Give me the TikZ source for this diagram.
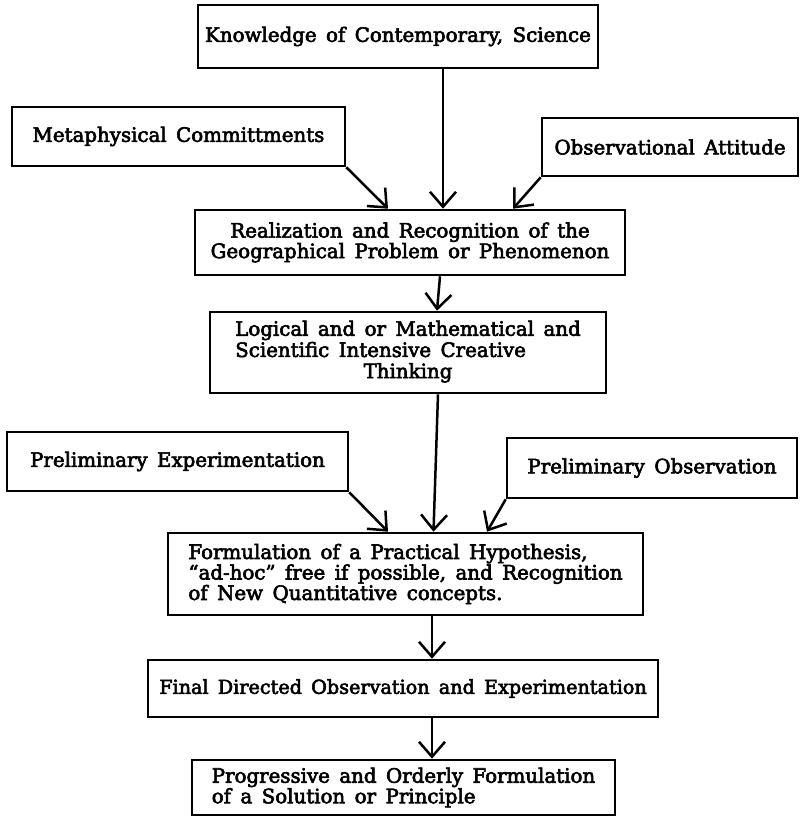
\documentclass[tikz,border=0pt]{standalone}
\usepackage{fontspec}
\setmainfont{DejaVu Serif}[FakeBold=3, WordSpace=1.5]
\usetikzlibrary{arrows.meta}
\begin{document}
\begin{tikzpicture}[x=1pt,y=-1pt,
  box/.style n args={2}{draw, line width=2.6pt, minimum width=#1pt, minimum height=#2pt,
    inner sep=0pt, font=\fontsize{19.8}{20.5}\selectfont},
  arr/.style={line width=2.5pt, -{Straight Barb[length=15pt,width=26pt,line width=2.5pt]}}]
\useasboundingbox[fill=white] (0,0) rectangle (800,817);
\node[box={400}{63}] (know) at (398,36.5) {Knowledge of Contemporary, Science};
\node[box={333}{59}] (meta) at (178.5,136.5) {Metaphysical Committments};
\node[box={256}{58}] (obs) at (670,147) {Observational Attitude};
\node[box={430}{65}, align=center] (real) at (410,242.5) {Realization and Recognition of the\\Geographical Problem or Phenomenon};
\node[box={396}{81}] (logi) at (408,352.5) {\begin{tabular}{@{}l@{}}Logical and or Mathematical and\\Scientific Intensive Creative\\\multicolumn{1}{@{}c@{}}{Thinking}\end{tabular}};
\node[box={341}{59}] (pexp) at (177.5,461.5) {Preliminary Experimentation};
\node[box={290}{60}] (pobs) at (652,468) {Preliminary Observation};
\node[box={475}{82}, align=left] (form) at (405.5,574) {Formulation of a Practical Hypothesis,\\``ad-hoc'' free if possible, and Recognition\\of New Quantitative concepts.};
\node[box={510}{57}, font=\fontsize{19.2}{20.5}\selectfont] (final) at (403,688.5) {Final Directed Observation and Experimentation};
\node[box={423}{55}, align=left] (prog) at (403.5,787.5) {Progressive and Orderly Formulation\\of a Solution or Principle};

\draw[arr] ([xshift=45pt]know.south) -- ([xshift=45pt]know.south |- real.north);
\draw[arr] (meta.south east) -- ([xshift=-22pt]real.north);
\draw[arr] (obs.south west) -- ([xshift=103pt]real.north);
\draw[arr] ([xshift=30pt]real.south) -- ([xshift=29pt]logi.north);
\draw[arr] ([xshift=30pt]logi.south) -- ([xshift=28pt]form.north);
\draw[arr] (pexp.south east) -- ([xshift=-17.5pt]form.north);
\draw[arr] (pobs.south west) -- ([xshift=81.5pt]form.north);
\draw[arr] ([xshift=26.5pt]form.south) -- ([xshift=29pt]final.north);
\draw[arr] ([xshift=29pt]final.south) -- ([xshift=28.5pt]prog.north);
\end{tikzpicture}
\end{document}
